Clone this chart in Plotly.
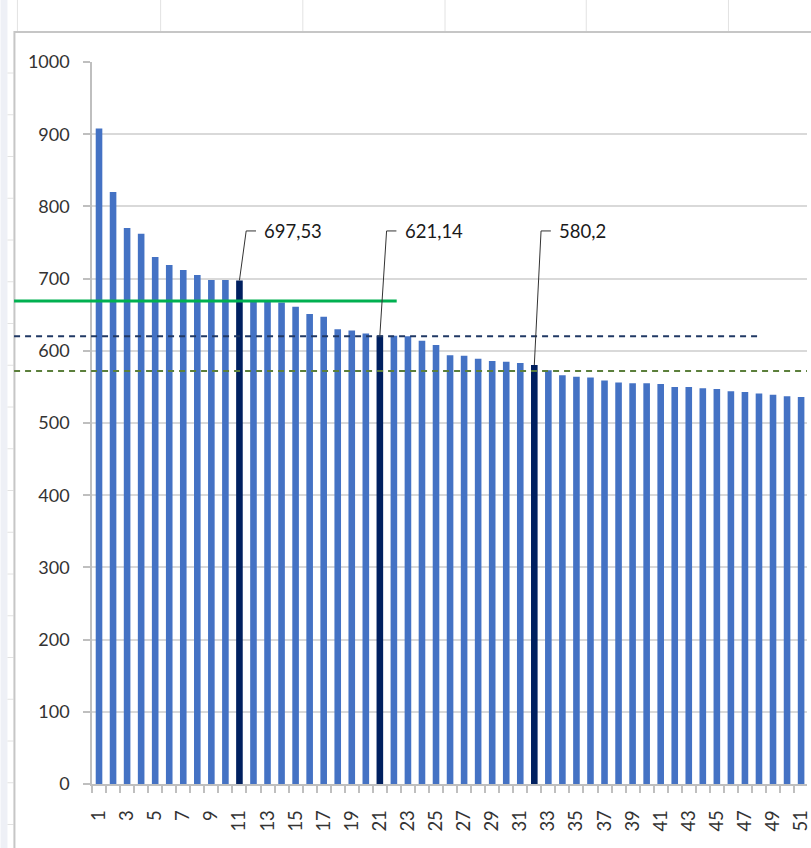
import plotly.graph_objects as go

# ---------------- data ----------------
categories = list(range(1, 52))
values = [908, 820, 770, 762, 730, 719, 712, 705, 698, 698, 697.53, 669, 668, 667,
          661, 651, 647, 630, 628, 624, 621.14, 621, 620, 614, 608, 594, 593, 589,
          586, 585, 583, 580.2, 573, 566, 564, 563, 559, 556, 555, 555, 554, 550,
          550, 548, 547, 544, 543, 541, 539, 537, 536]
highlight = [11, 21, 32]
label_text = ["697,53", "621,14", "580,2"]
ref_values = [669, 620, 572]          # green solid, navy dashed, olive dashed
ref_start = [-5.05, -5.05, -5.05]     # category units
ref_end = [22.2, 47.9, 70.0]
tick_values = [c for c in categories if c % 2 == 1]
tick_labels = [str(c) for c in tick_values]

# ---------------- layout constants ----------------
W, H = 811, 848
ML, MR, MT, MB = 92, 0, 62, 64
PW, PH = W - ML - MR, H - MT - MB
XR = [0.5, 51.42]
YR = [0, 1000]
FONT = "Lato"
BLUE = "#4472c4"
NAVY = "#002060"


def px_x(p):
    return (p - ML) / PW


def px_y(p):
    return (H - MB - p) / PH


def cat_to_paper(c):
    return (c - XR[0]) / (XR[1] - XR[0])


def val_to_paper(v):
    return (v - YR[0]) / (YR[1] - YR[0])


colors = [NAVY if c in highlight else BLUE for c in categories]

fig = go.Figure()
fig.add_trace(go.Bar(x=categories, y=values, marker=dict(color=colors, line=dict(width=0)),
                     width=0.47, hoverinfo="skip"))

shapes = []
# spreadsheet background decorations
shapes.append(dict(type="rect", xref="paper", yref="paper", x0=px_x(0), x1=px_x(7),
                   y0=px_y(0), y1=px_y(H), fillcolor="#eef0f6", line=dict(width=0), layer="below"))
for cx in [17, 161, 304, 447, 589, 732]:
    shapes.append(dict(type="line", xref="paper", yref="paper", x0=px_x(cx), x1=px_x(cx),
                       y0=px_y(0), y1=px_y(31), line=dict(color="#e2e2e2", width=1), layer="below"))
ry = 73
while ry < H:
    shapes.append(dict(type="line", xref="paper", yref="paper", x0=px_x(7), x1=px_x(13),
                       y0=px_y(ry), y1=px_y(ry), line=dict(color="#e2e2e2", width=1), layer="below"))
    ry += 41.75
# chart area border
shapes.append(dict(type="rect", xref="paper", yref="paper", x0=px_x(14), x1=px_x(W + 50),
                   y0=px_y(H + 50), y1=px_y(32), line=dict(color="#c6c6c6", width=2),
                   fillcolor="rgba(0,0,0,0)", layer="below"))

# reference lines
ref_styles = [dict(color="#00b050", width=3, dash="solid"),
              dict(color="#203864", width=2, dash="6px,5px"),
              dict(color="#5b7f3b", width=2, dash="6px,5px")]
for v, s, e, st in zip(ref_values, ref_start, ref_end, ref_styles):
    shapes.append(dict(type="line", xref="paper", yref="paper",
                       x0=cat_to_paper(s), x1=min(cat_to_paper(e), 1.0),
                       y0=val_to_paper(v), y1=val_to_paper(v), line=st, layer="above"))

# leader lines for the data labels
label_y = 766
annotations = []
for c, t in zip(highlight, label_text):
    v = values[categories.index(c)]
    shapes.append(dict(type="path", xref="x", yref="y",
                       path=f"M {c},{v} L {c + 0.48},{label_y} L {c + 1.18},{label_y}",
                       line=dict(color="#333333", width=1), layer="above"))
    annotations.append(dict(x=c + 1.62, y=label_y, xref="x", yref="y", text=t,
                            showarrow=False, xanchor="left", yanchor="middle",
                            font=dict(family=FONT, size=18.5, color="#1a1a1a")))

fig.update_layout(
    width=W, height=H,
    margin=dict(l=ML, r=MR, t=MT, b=MB),
    paper_bgcolor="white", plot_bgcolor="rgba(0,0,0,0)",
    showlegend=False,
    font=dict(family=FONT, size=18, color="#333333"),
    shapes=shapes, annotations=annotations,
    xaxis=dict(range=XR, tickmode="array", tickvals=tick_values, ticktext=tick_labels,
               tickangle=-90, ticks="outside", ticklen=7, tickcolor="rgba(0,0,0,0)",
               ticklabelstandoff=10, ticklabeloverflow="allow",
               showline=True, linecolor="#bfbfbf", linewidth=1.5, showgrid=False, zeroline=False,
               minor=dict(tickmode="array", tickvals=[c + 0.5 for c in [0] + categories],
                          ticks="outside", ticklen=7, tickcolor="#bfbfbf", tickwidth=1.5,
                          showgrid=False),
               tickfont=dict(family=FONT, size=18.5, color="#333333"), fixedrange=True),
    yaxis=dict(range=YR, tickmode="linear", tick0=0, dtick=100, showgrid=True,
               gridcolor="#d9d9d9", gridwidth=1.5, showline=True, linecolor="#bfbfbf",
               linewidth=1.5, ticks="outside", ticklen=7, tickcolor="#bfbfbf", tickwidth=1.5,
               ticklabelstandoff=10, zeroline=False,
               tickfont=dict(family=FONT, size=18, color="#333333"), fixedrange=True),
)

fig.write_html("out.html", config={"displayModeBar": False},
               post_script="document.body.style.margin='0';document.body.style.overflow='hidden';")
